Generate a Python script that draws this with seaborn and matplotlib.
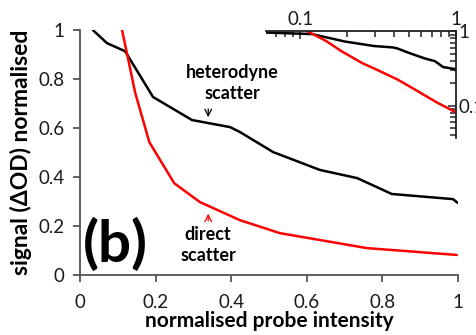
import numpy as np
import pandas as pd
import seaborn as sns
import matplotlib
matplotlib.use("Agg")
import matplotlib.pyplot as plt
from matplotlib.ticker import FixedLocator, LogLocator, NullFormatter, FuncFormatter

# data
het_x = [0.034, 0.071, 0.119, 0.193, 0.296, 0.397, 0.423, 0.511, 0.635, 0.733, 0.825, 0.987, 1.0]
het_y = [1.0, 0.947, 0.914, 0.727, 0.633, 0.604, 0.584, 0.502, 0.429, 0.396, 0.331, 0.310, 0.294]
dir_x = [0.111, 0.146, 0.183, 0.249, 0.317, 0.423, 0.529, 0.759, 0.997]
dir_y = [1.0, 0.743, 0.543, 0.375, 0.298, 0.224, 0.171, 0.110, 0.082]
x_ticks = [0, 0.2, 0.4, 0.6, 0.8, 1]
y_ticks = [0, 0.2, 0.4, 0.6, 0.8, 1]

het = pd.DataFrame({"x": het_x, "y": het_y})
dirc = pd.DataFrame({"x": dir_x, "y": dir_y})

sns.set_theme(style="ticks")
plt.rcParams['font.family'] = ['Lato', 'DejaVu Sans']
plt.rcParams['axes.linewidth'] = 1.3
plt.rcParams['text.color'] = 'black'
plt.rcParams['axes.labelcolor'] = 'black'

fig = plt.figure(figsize=(4.77, 3.35), dpi=100)
ax = fig.add_axes([0.168, 0.179, 0.792, 0.731])

sns.lineplot(data=het, x="x", y="y", color="black", lw=1.8, sort=False, ax=ax)
sns.lineplot(data=dirc, x="x", y="y", color="red", lw=1.8, sort=False, ax=ax)

ax.set_xlim(0, 1)
ax.set_ylim(0, 1)
ax.set_xticks(x_ticks)
ax.set_yticks(y_ticks)
fmt = FuncFormatter(lambda v, p: "%g" % v)
ax.xaxis.set_major_formatter(fmt)
ax.yaxis.set_major_formatter(fmt)
ax.tick_params(labelsize=13.5, labelcolor="#1a1a1a", length=5, width=1.3, pad=6, color="#555555")
ax.tick_params(axis="x", pad=9)
for s in ["left", "bottom"]:
    ax.spines[s].set_color("#555555")
sns.despine(ax=ax)

ax.set_xlabel("normalised probe intensity", fontsize=15, fontweight="bold", labelpad=0)
ax.set_ylabel("signal (\u0394OD) normalised", fontsize=16.5, fontweight="bold", labelpad=5)

ax.text(0.402, 0.784, "heterodyne\nscatter", ha="center", va="center",
        fontsize=13, fontweight="bold", linespacing=1.3)
ax.annotate("", xy=(0.339, 0.633), xytext=(0.339, 0.69),
            arrowprops=dict(arrowstyle="->", color="black", lw=0.9))
ax.text(0.339, 0.122, "direct\nscatter", ha="center", va="center",
        fontsize=13, fontweight="bold", linespacing=1.3)
ax.annotate("", xy=(0.339, 0.262), xytext=(0.339, 0.21),
            arrowprops=dict(arrowstyle="->", color="red", lw=0.9))
ax.text(0.093, 0.125, "(b)", ha="center", va="center", fontsize=42, fontweight="bold")

# log-log inset
ins = fig.add_axes([0.558, 0.588, 0.398, 0.319])
ins.patch.set_alpha(0)
sns.lineplot(data=het, x="x", y="y", color="black", lw=1.8, sort=False, ax=ins)
sns.lineplot(data=dirc, x="x", y="y", color="red", lw=1.8, sort=False, ax=ins)
ins.set_xscale("log")
ins.set_yscale("log")
ins.set_xlim(0.0605, 1)
ins.set_ylim(0.037, 1)
ins.set_xlabel("")
ins.set_ylabel("")
for s in ["left", "bottom"]:
    ins.spines[s].set_visible(False)
for s in ["top", "right"]:
    ins.spines[s].set_color("#222222")
    ins.spines[s].set_linewidth(1.3)
ins.xaxis.tick_top()
ins.yaxis.tick_right()
ins.xaxis.set_major_locator(FixedLocator([0.1, 1]))
ins.yaxis.set_major_locator(FixedLocator([0.1, 1]))
ins.xaxis.set_minor_locator(LogLocator(base=10, subs=np.arange(2, 10)))
ins.yaxis.set_minor_locator(LogLocator(base=10, subs=np.arange(2, 10)))
ins.xaxis.set_minor_formatter(NullFormatter())
ins.yaxis.set_minor_formatter(NullFormatter())
ins.xaxis.set_major_formatter(fmt)
ins.yaxis.set_major_formatter(fmt)
ins.tick_params(which="both", direction="in", color="#222222", width=1.1,
                labelsize=13.5, labelcolor="#1a1a1a", pad=2)
ins.tick_params(which="major", length=6)
ins.tick_params(which="minor", length=4)

fig.savefig("out.png", dpi=100)
